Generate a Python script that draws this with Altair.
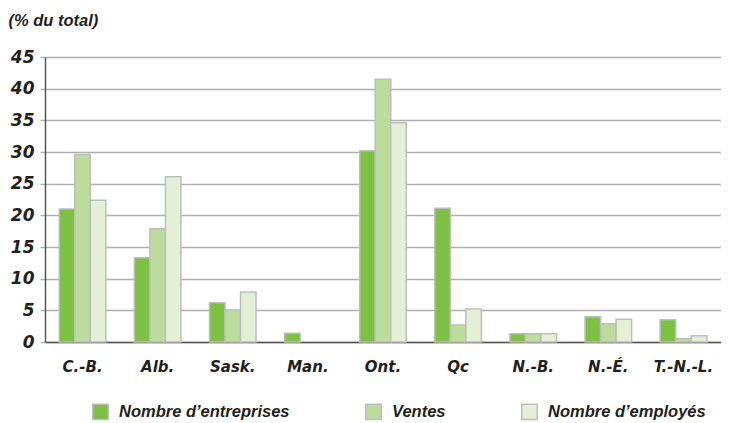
import altair as alt
import pandas as pd

provinces = ["C.-B.", "Alb.", "Sask.", "Man.", "Ont.", "Qc", "N.-B.", "N.-É.", "T.-N.-L."]
series = ["Nombre d’entreprises", "Ventes", "Nombre d’employés"]
entreprises = [21.0, 13.3, 6.2, 1.4, 30.2, 21.1, 1.3, 4.0, 3.5]
ventes = [29.6, 17.9, 5.05, 0.0, 41.5, 2.7, 1.3, 2.9, 0.5]
employes = [22.4, 26.1, 7.9, 0.0, 34.6, 5.2, 1.3, 3.6, 1.0]
colors = ["#7cc142", "#bcdc9c", "#e3f0d6"]
y_ticks = [0, 5, 10, 15, 20, 25, 30, 35, 40, 45]

rows = []
for s, vals in zip(series, [entreprises, ventes, employes]):
    for p, v in zip(provinces, vals):
        rows.append({"prov": p, "serie": s, "val": v})
df = pd.DataFrame(rows)

FONT = "Liberation Sans"
AXFONT = "DejaVu Sans"
TXT = "#231f20"

chart = alt.Chart(df).transform_filter("datum.val > 0").mark_bar(stroke="#bdbdbd", strokeWidth=1.5).encode(
    x=alt.X("prov:N", sort=provinces, title=None,
            scale=alt.Scale(domain=provinces, paddingInner=0.38, paddingOuter=0.19),
            axis=alt.Axis(labelAngle=0, ticks=False, labelPadding=17,
                          domainColor="#555555", domainWidth=1.5, grid=False,
                          labelFont=AXFONT, labelFontSize=15, labelFontWeight="bold",
                          labelFontStyle="italic", labelColor=TXT)),
    xOffset=alt.XOffset("serie:N", sort=series, scale=alt.Scale(domain=series)),
    y=alt.Y("val:Q", scale=alt.Scale(domain=[0, 45], nice=False),
            axis=alt.Axis(values=y_ticks, title="(% du total)", titleAngle=0,
                          titleX=-37, titleY=-37, titleAlign="left", titleBaseline="middle",
                          titleFont=FONT, titleFontSize=16.5, titleFontWeight="bold",
                          titleFontStyle="italic", titleColor=TXT,
                          tickSize=5, tickColor="#b0b0b0", tickWidth=1.5, labelPadding=6,
                          domainColor="#555555", domainWidth=1.5,
                          gridColor="#b0b0b0", gridWidth=1.5,
                          labelFont=AXFONT, labelFontSize=17, labelFontWeight="bold",
                          labelFontStyle="italic", labelColor=TXT)),
    color=alt.Color("serie:N", sort=series,
                    scale=alt.Scale(domain=series, range=colors),
                    legend=alt.Legend(title=None, orient="none", direction="horizontal",
                                      legendX=47, legendY=346, columns=3, columnPadding=72,
                                      symbolType="square", symbolSize=240,
                                      symbolStrokeColor="#bdbdbd", symbolStrokeWidth=1.5,
                                      symbolOpacity=1, symbolOffset=0, labelOffset=10,
                                      labelFont=FONT, labelFontSize=16.5, labelFontWeight="bold",
                                      labelFontStyle="italic", labelColor=TXT, labelLimit=300,
                                      padding=0)),
).properties(
    width=676, height=285,
    autosize=alt.AutoSizeParams(type="none"),
    padding={"left": 37, "top": 49, "right": 0, "bottom": 79},
).configure_view(stroke=None).configure(background="white")

chart.save("out.html", embed_options={"renderer": "svg", "actions": False})
